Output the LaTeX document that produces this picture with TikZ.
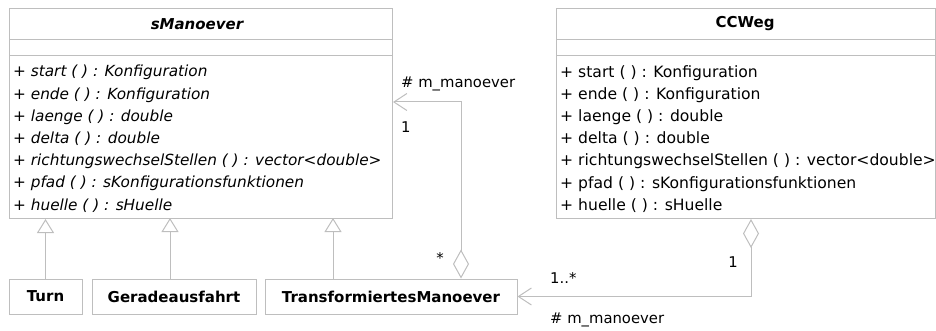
\documentclass[tikz,border=0pt]{standalone}
\usepackage{fontspec}
\setmainfont{DejaVu Sans}
\usepackage{tikz}
\usetikzlibrary{arrows.meta}
\usetikzlibrary{positioning}

\definecolor{umlgray}{RGB}{190,190,190}

\tikzset{
  umlbox/.style={draw=umlgray,line width=1pt,rectangle,inner sep=0pt,anchor=north west},
  classtitle/.style={font=\fontsize{15}{17}\selectfont\bfseries,inner sep=0pt},
  methods/.style={font=\fontsize{15.6}{22.2}\selectfont,align=left,inner sep=0pt,anchor=north west},
  leafbox/.style={draw=umlgray,line width=1pt,rectangle,inner sep=0pt,minimum height=35pt,font=\fontsize{15}{17}\selectfont\bfseries},
  gen/.style={draw=umlgray,line width=1pt,-{Triangle[open,length=14pt,width=17pt]}},
  aggr/.style={draw=umlgray,line width=1pt,{Diamond[open,length=29pt,width=16pt]}-{Straight Barb[length=13pt,width=17pt]}},
  lbl/.style={font=\fontsize{14.8}{17}\selectfont,inner sep=0pt}
}

\begin{document}
\begin{tikzpicture}[x=1pt,y=-1pt]
   \useasboundingbox (0,0) rectangle (936,331);

   % abstract class
   \node[umlbox,minimum width=383pt,minimum height=210pt] (smanoever) at (9,8) {};
   \draw[umlgray,line width=1pt] (9,39.5) -- (392,39.5) (9,56) -- (392,56);
   \node[classtitle,font=\fontsize{15}{17}\selectfont\bfseries\itshape] (smtitle) at (197,24) {sManoever};
   \node[methods,font=\fontsize{15.3}{22.2}\selectfont\itshape] (smops) at (13,65) {%
      + start ( ) : Konfiguration\\
      + ende ( ) : Konfiguration\\
      + laenge ( ) : double\\
      + delta ( ) : double\\
      + richtungswechselStellen ( ) : vector<double>\\
      + pfad ( ) : sKonfigurationsfunktionen\\
      + huelle ( ) : sHuelle};

   % path class
   \node[umlbox,minimum width=378.5pt,minimum height=210pt] (ccweg) at (556,8) {};
   \draw[umlgray,line width=1pt] (556,39.5) -- (934.5,39.5) (556,56) -- (934.5,56);
   \node[classtitle] (cctitle) at (745,24) {CCWeg};
   \node[methods] (ccops) at (560,65) {%
      + start ( ) : Konfiguration\\
      + ende ( ) : Konfiguration\\
      + laenge ( ) : double\\
      + delta ( ) : double\\
      + richtungswechselStellen ( ) : vector<double>\\
      + pfad ( ) : sKonfigurationsfunktionen\\
      + huelle ( ) : sHuelle};

   % subclasses
   \node[leafbox,minimum width=73pt] (turn) at (45.5,296.5) {Turn};
   \node[leafbox,minimum width=164pt] (gerade) at (174,296.5) {Geradeausfahrt};
   \node[leafbox,minimum width=252pt] (trafo) at (391,296.5) {TransformiertesManoever};

   \draw[gen] (turn.north) -- (turn.north |- smanoever.south);
   \draw[gen] (gerade.north -| 170,0) -- (170,218);
   \draw[gen] (trafo.north -| 333,0) -- (333,218);

   % aggregations
   \coordinate (knickA) at (461,102);
   \coordinate (knickB) at (751,297);
   \draw[aggr] (trafo.north -| knickA) |- (smanoever.east |- knickA);
   \draw[aggr] (ccweg.south -| knickB) |- (trafo.east);

   \node[lbl,anchor=west] (rolleA) at (401,84) {\# m\_manoever};
   \node[lbl,anchor=west] (multA) at (401,127) {1};
   \node[lbl] (multAs) at (440,258) {*};
   \node[lbl,anchor=west] (multB) at (550,278) {1..*};
   \node[lbl] (multBa) at (733,262) {1};
   \node[lbl,anchor=west] (rolleB) at (550,320) {\# m\_manoever};
\end{tikzpicture}
\end{document}
